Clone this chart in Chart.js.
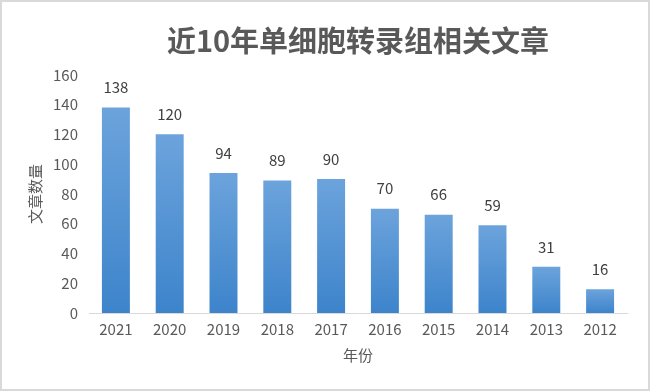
<!DOCTYPE html>
<html>
<head>
<meta charset="utf-8">
<script src="https://cdn.jsdelivr.net/npm/chart.js@4"></script>
<style>
    html, body { margin: 0; padding: 0; background: #ffffff; }
    #wrap {
        width: 650px; height: 391px; box-sizing: border-box;
        border: 2px solid #d9d9d9; background: #ffffff;
    }
    #chart { display: block; }
</style>
</head>
<body>
<div id="wrap"><canvas id="chart" width="646" height="387"></canvas></div>
<script>
// Data
const years = ['2021', '2020', '2019', '2018', '2017', '2016', '2015', '2014', '2013', '2012'];
const articleCounts = [138, 120, 94, 89, 90, 70, 66, 59, 31, 16];
const yTicks = [0, 20, 40, 60, 80, 100, 120, 140, 160];

const textColor = '#595959';
const fontFamily = '"Noto Sans CJK SC", "Noto Sans", sans-serif';

// Each bar gets its own top-to-bottom gradient, like the Excel fill
function barGradient(context) {
    const chart = context.chart;
    const area = chart.chartArea;
    if (!area || context.parsed === undefined) return '#5b9bd5';
    const yScale = chart.scales.y;
    const top = yScale.getPixelForValue(context.parsed.y);
    const bottom = yScale.getPixelForValue(0);
    const g = chart.ctx.createLinearGradient(0, top, 0, bottom);
    g.addColorStop(0, '#6ca3dc');
    g.addColorStop(1, '#3d84cb');
    return g;
}

// Value labels above each bar
const valueLabels = {
    id: 'valueLabels',
    afterDatasetsDraw(chart) {
        const ctx = chart.ctx;
        const meta = chart.getDatasetMeta(0);
        ctx.save();
        ctx.font = '15px ' + fontFamily;
        ctx.fillStyle = '#404040';
        ctx.textAlign = 'center';
        ctx.textBaseline = 'middle';
        meta.data.forEach((bar, i) => {
            ctx.fillText(String(articleCounts[i]), bar.x, bar.y - 20);
        });
        ctx.restore();
    }
};

new Chart(document.getElementById('chart'), {
    type: 'bar',
    data: {
        labels: years,
        datasets: [{
            data: articleCounts,
            backgroundColor: barGradient,
            borderWidth: 0,
            categoryPercentage: 1,
            barPercentage: 0.52
        }]
    },
    options: {
        responsive: false,
        animation: false,
        layout: { padding: { left: 20, right: 21, top: 0, bottom: 25 } },
        plugins: {
            legend: { display: false },
            tooltip: { enabled: false },
            title: {
                display: true,
                fullSize: false,
                text: '近10年单细胞转录组相关文章',
                color: textColor,
                font: { family: fontFamily, size: 29, weight: 'bold', lineHeight: 1.2 },
                padding: { top: 22, bottom: 16 }
            }
        },
        scales: {
            x: {
                grid: { display: false, drawTicks: false },
                border: { display: true, color: '#d9d9d9', width: 1 },
                ticks: {
                    color: textColor,
                    padding: 7,
                    font: { family: fontFamily, size: 15 }
                },
                title: {
                    display: true,
                    text: '年份',
                    color: textColor,
                    font: { family: fontFamily, size: 15 },
                    padding: { top: 1, bottom: 0 }
                }
            },
            y: {
                min: 0,
                max: 160,
                afterBuildTicks(scale) {
                    scale.ticks = yTicks.map(v => ({ value: v }));
                },
                afterFit(scale) {
                    scale.width = 67;
                },
                grid: { display: false, drawTicks: false },
                border: { display: false },
                ticks: {
                    color: textColor,
                    padding: 11,
                    font: { family: fontFamily, size: 15 }
                },
                title: {
                    display: true,
                    text: '文章数量',
                    color: textColor,
                    font: { family: fontFamily, size: 15 },
                    padding: { top: 4, bottom: 0 }
                }
            }
        }
    },
    plugins: [valueLabels]
});
</script>
</body>
</html>
